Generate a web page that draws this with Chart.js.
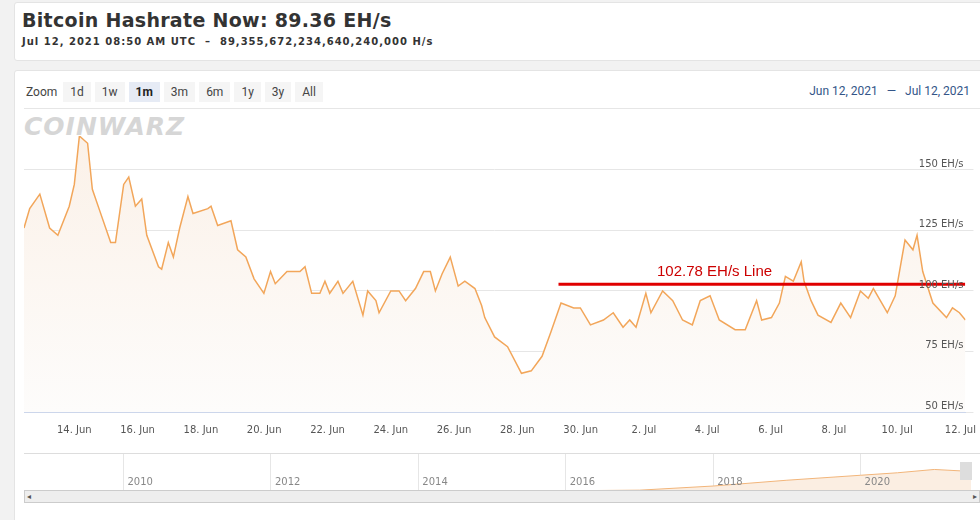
<!DOCTYPE html>
<html><head><meta charset="utf-8">
<script src="https://cdn.jsdelivr.net/npm/chart.js@4"></script>
<style>
body{margin:0;width:980px;height:520px;background:#f2f2f2;font-family:Roboto,"Open Sans",sans-serif;position:relative;overflow:hidden}
.card{position:absolute;background:#fff;border:1px solid #e4e4e4;border-radius:3px}
h1{position:absolute;left:22px;top:9px;margin:0;font:bold 19px "DejaVu Sans",sans-serif;color:#333;letter-spacing:0.3px}
.sub{position:absolute;left:22px;top:36px;font:bold 10px "DejaVu Sans",sans-serif;color:#333;letter-spacing:1px}
.zoom{position:absolute;left:24px;top:82px;font-size:12px;color:#444}
.zoom span{display:inline-block;padding:3px 7px;margin-right:4px;background:#f5f5f5;color:#444}
.zoom span.on{background:#e6ebf5;font-weight:bold;color:#222}
.zoom span.lbl{background:none;padding:3px 2px}
.range{position:absolute;right:10px;top:84px;font-size:12px;color:#335588}
.wm{position:absolute;left:24px;top:112px;font:bold italic 25px "DejaVu Sans",sans-serif;color:#d6d6d6;letter-spacing:1px}
</style></head><body>
<div class="card" style="left:14px;top:2px;width:990px;height:57px"></div>
<h1>Bitcoin Hashrate Now: 89.36 EH/s</h1>
<div class="sub">Jul 12, 2021 08:50 AM UTC &nbsp;–&nbsp; 89,355,672,234,640,240,000 H/s</div>
<div class="card" style="left:14px;top:70px;width:990px;height:460px"></div>
<div class="zoom"><span class="lbl">Zoom</span><span>1d</span><span>1w</span><span class="on">1m</span><span>3m</span><span>6m</span><span>1y</span><span>3y</span><span>All</span></div>
<div class="range">Jun 12, 2021 &nbsp;&nbsp;—&nbsp;&nbsp; Jul 12, 2021</div>
<div style="position:absolute;left:24px;top:108px;width:956px;border-top:1px solid #e6e6e6"></div>
<div class="wm">COINWARZ</div>
<div style="position:absolute;left:0;top:120px;width:980px;height:320px"><canvas id="c"></canvas></div>
<div style="position:absolute;left:24px;top:453px;width:956px;height:37px;border-top:1px solid #ddd"><canvas id="nav"></canvas></div>
<div style="position:absolute;left:24px;top:490px;width:954px;height:11px;background:#eee;border:1px solid #ccc;font-size:8px;color:#555;line-height:11px">&nbsp;◂<span style="float:right">▸&nbsp;</span></div>
<script>
// hashrate, day number counted from 0 Jun (Jul k = 30 + k)
const days = [12.41,12.59,12.91,13.22,13.48,13.84,14.0,14.16,14.42,14.57,14.78,15.15,15.30,15.56,15.72,15.93,16.13,16.29,16.66,16.76,16.97,17.13,17.33,17.59,17.75,18.22,18.32,18.53,18.95,19.16,19.42,19.68,19.99,20.20,20.35,20.72,21.13,21.29,21.5,21.76,21.92,22.07,22.33,22.49,22.80,23.12,23.27,23.53,23.63,24.0,24.26,24.47,24.78,25.04,25.25,25.41,25.62,25.88,26.13,26.34,26.66,26.87,26.97,
  27.28,27.69,28.13,28.44,28.78,29.06,29.38,29.78,29.99,30.31,30.72,31.03,31.34,31.55,31.75,32.06,32.22,32.59,32.91,33.22,33.53,33.78,34.09,34.38,34.88,35.2,35.56,35.72,36.03,36.28,36.47,36.72,36.97,37.06,37.28,37.5,37.91,38.22,38.53,38.84,39.09,39.25,39.69,39.94,40.25,40.5,40.63,40.81,41.13,41.56,41.75,41.97,42.16];
const hashrate = [126,134,140,126,123,135,144,164,161,142,134,120,120,144,147,135,138,123,110,109,120,114,126,139,132,134,135,127,129,117,114,105,99,108,103,108,108,110,99,99,104,99,104,99,104,90,100,96,91,100,100,96,101,108,108,100,107,114,102,104,101,94,89,
  81,77,66,67,73,83,95,93,93,86,88,91,85,88,85,99,91,100,96,88,86,96,98,88,84,84,96,88,89,95,106,104,112,104,96,90,87,95,89,100,97,101,91,98,121,117,123,108,95,89,93,91,88];
const lineValue = 102.78;
const lineFrom = 29.3, lineTo = 42.15;
const xTicks = [14,16,18,20,22,24,26,28,30,32,34,36,38,40,42];
const xTickLabels = ['14. Jun','16. Jun','18. Jun','20. Jun','22. Jun','24. Jun','26. Jun','28. Jun','30. Jun','2. Jul','4. Jul','6. Jul','8. Jul','10. Jul','12. Jul'];
const yTicks = [50,75,100,125,150];
const navYears = [2009,2010,2011,2012,2013,2014,2015,2016,2017,2018,2019,2020,2020.5,2021,2021.5];
const navValues = [0,0,0,0,0,0.3,0.5,1.5,5,30,65,95,110,130,118];
const navLabels = [2010,2012,2014,2016,2018,2020];

const yLabels = {
  id: 'yLabels',
  afterDraw(chart) {
    const c = chart.ctx, y = chart.scales.y, a = chart.chartArea;
    c.save(); c.font = '10px "DejaVu Sans"'; c.fillStyle = '#555'; c.textAlign = 'right';
    yTicks.forEach(v => c.fillText(v + ' EH/s', a.right - 2, y.getPixelForValue(v) - 3));
    c.font = '15px "Liberation Sans"'; c.fillStyle = '#cc0000'; c.textAlign = 'left';
    c.fillText(lineValue + ' EH/s Line', 657, y.getPixelForValue(lineValue) - 8);
    c.restore();
  }
};

new Chart(document.getElementById('c'), {
  type: 'line',
  data: { datasets: [
    { data: [{x: lineFrom, y: lineValue}, {x: lineTo, y: lineValue}], borderColor: '#e00000', borderWidth: 3, pointRadius: 0 },
    { data: days.map((d, i) => ({x: d, y: hashrate[i]})), borderColor: '#f2a65a', borderWidth: 1.5, pointRadius: 0, tension: 0,
      fill: 'start', backgroundColor: ctx => {
        const a = ctx.chart.chartArea; if (!a) return '#fbf3ec';
        const g = ctx.chart.ctx.createLinearGradient(0, a.top, 0, a.bottom);
        g.addColorStop(0, '#fbf1e8'); g.addColorStop(1, '#fdfcfb'); return g;
      } }
  ]},
  options: {
    responsive: true, maintainAspectRatio: false, animation: false,
    layout: { padding: { left: 24, right: 5, top: 16 } },
    plugins: { legend: { display: false }, tooltip: { enabled: false } },
    scales: {
      x: { type: 'linear', min: 12.41, max: 42.16,
        afterBuildTicks: s => { s.ticks = xTicks.map(v => ({value: v})); },
        ticks: { callback: (v) => xTickLabels[xTicks.indexOf(v)], maxRotation: 0, autoSkip: false, color: '#555', padding: 4, font: {size: 10, family: 'DejaVu Sans'} },
        grid: { display: false, drawTicks: true }, border: { color: '#ccd6eb' } },
      y: { min: 50, max: 164, position: 'right',
        afterBuildTicks: s => { s.ticks = yTicks.map(v => ({value: v})); },
        afterFit: s => { s.width = 0; },
        ticks: { display: false }, grid: { color: '#e6e6e6' }, border: { display: false } }
    }
  },
  plugins: [yLabels]
});

new Chart(document.getElementById('nav'), {
  type: 'line',
  data: { datasets: [{ data: navYears.map((y, i) => ({x: y, y: navValues[i]})), borderColor: '#f2b57a', borderWidth: 1,
    pointRadius: 0, fill: 'start', backgroundColor: '#fbeee2' }] },
  options: {
    responsive: true, maintainAspectRatio: false, animation: false,
    layout: { padding: 0 },
    plugins: { legend: { display: false }, tooltip: { enabled: false } },
    scales: {
      x: { type: 'linear', min: 2008.65, max: 2021.62, position: 'top',
        afterBuildTicks: s => { s.ticks = navLabels.map(v => ({value: v})); },
        ticks: { display: false }, grid: { color: '#e6e6e6' }, border: { display: false } },
      y: { display: false, min: 0, max: 175 }
    }
  },
  plugins: [{ id: 'navLabels', afterDraw(chart) {
    const c = chart.ctx, x = chart.scales.x;
    c.save(); c.font = '10px "DejaVu Sans"'; c.fillStyle = '#888';
    navLabels.forEach(v => c.fillText(String(v), x.getPixelForValue(v) + 4, 31));
    c.fillStyle = '#ddd'; c.fillRect(chart.chartArea.right - 20, 8, 12, 18);
    c.restore();
  } }]
});
</script>
</body></html>
